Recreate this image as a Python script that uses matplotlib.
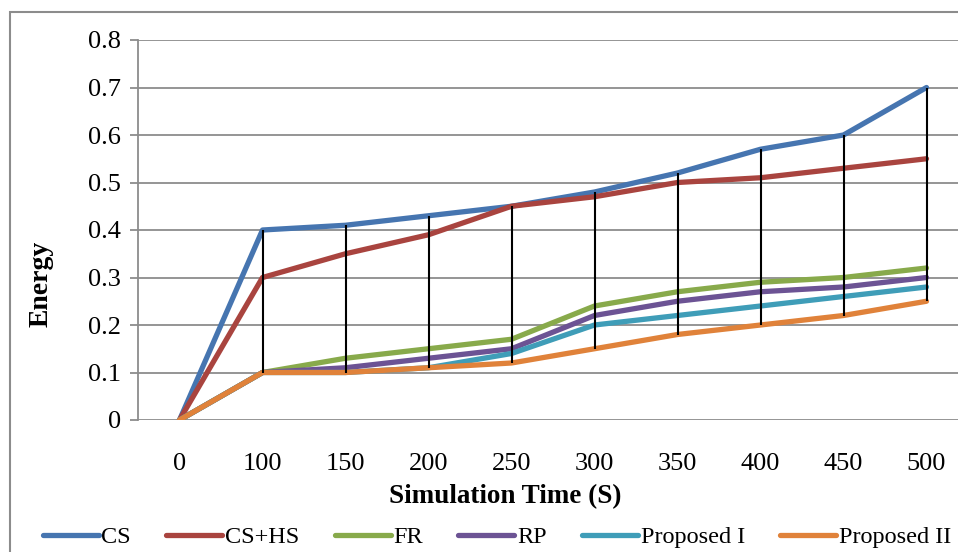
import numpy as np
import matplotlib
matplotlib.use("Agg")
import matplotlib.pyplot as plt
from matplotlib.patches import Rectangle

plt.rcParams["font.family"] = ["Liberation Serif", "DejaVu Serif"]

# data
categories = ["0", "100", "150", "200", "250", "300", "350", "400", "450", "500"]
cs          = [0, 0.40, 0.41, 0.43, 0.45, 0.48, 0.52, 0.57, 0.60, 0.70]
cs_hs       = [0, 0.30, 0.35, 0.39, 0.45, 0.47, 0.50, 0.51, 0.53, 0.55]
fr          = [0, 0.10, 0.13, 0.15, 0.17, 0.24, 0.27, 0.29, 0.30, 0.32]
rp          = [0, 0.10, 0.11, 0.13, 0.15, 0.22, 0.25, 0.27, 0.28, 0.30]
proposed_1  = [0, 0.10, 0.10, 0.11, 0.14, 0.20, 0.22, 0.24, 0.26, 0.28]
proposed_2  = [0, 0.10, 0.10, 0.11, 0.12, 0.15, 0.18, 0.20, 0.22, 0.25]
series_names = ["CS", "CS+HS", "FR", "RP", "Proposed I", "Proposed II"]
y_ticks = [0, 0.1, 0.2, 0.3, 0.4, 0.5, 0.6, 0.7, 0.8]

COLORS = ["#4675B0", "#A9443F", "#88AA4B", "#6C5394", "#3F9DB8", "#E0823A"]
GRID = "#8C8C8C"
W, H = 958, 552

fig = plt.figure(figsize=(W / 100, H / 100), dpi=100)
ax = fig.add_axes([138 / W, 1 - 420 / H, 830 / W, 380 / H])

x = np.arange(len(categories))
series = [cs, cs_hs, fr, rp, proposed_1, proposed_2]
for name, vals, col in zip(series_names, series, COLORS):
    ax.plot(x, vals, color=col, lw=3.8, label=name,
            solid_capstyle="round", solid_joinstyle="round", zorder=3)

# high-low lines across all series
arr = np.array(series)
ax.vlines(x, arr.min(axis=0), arr.max(axis=0), color="black", lw=1.5, zorder=4)

ax.set_xlim(-0.5, len(categories) - 0.5)
ax.set_ylim(0, 0.8)
ax.set_xticks(x)
ax.set_xticklabels(categories, fontsize=19)
ax.set_yticks(y_ticks)
ax.set_yticklabels(["0" if v == 0 else f"{v:.1f}" for v in y_ticks], fontsize=19)

ax.yaxis.grid(True, color=GRID, lw=1.3)
ax.set_axisbelow(True)
for side in ["top", "right", "bottom"]:
    ax.spines[side].set_visible(False)
ax.spines["left"].set_color(GRID)
ax.spines["left"].set_linewidth(1.3)
ax.tick_params(axis="y", direction="out", length=6, width=1.3, color=GRID, pad=6)
ax.tick_params(axis="x", length=0, pad=24)

fig.text(41 / W, 1 - 284 / H, "Energy", rotation=90, fontsize=20,
         fontweight="bold", ha="center", va="center")
fig.text(505 / W, 1 - 497 / H, "Simulation Time (S)", fontsize=19.5,
         fontweight="bold", ha="center", va="center")

fig.legend(loc="center", bbox_to_anchor=(497 / W, 1 - 537 / H), ncol=6,
           frameon=False, fontsize=17.5, handlelength=2.3, handletextpad=0.12,
           columnspacing=1.45, borderpad=0, borderaxespad=0)

# outer chart frame (runs off the right and bottom edges)
fig.patches.append(Rectangle((10 / W, -0.1), 1.0, 1 - 12 / H + 0.1,
                             transform=fig.transFigure, fill=False,
                             edgecolor=GRID, lw=1.5))

fig.savefig("out.png", dpi=100)
